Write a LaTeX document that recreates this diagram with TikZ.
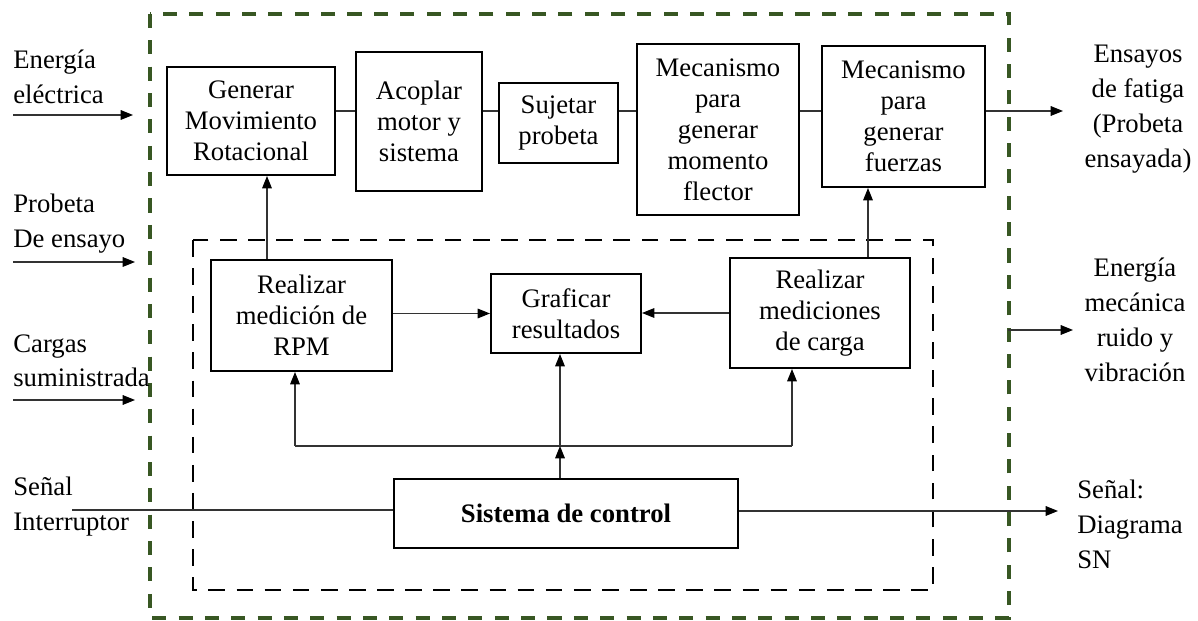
\documentclass[tikz,border=0pt]{standalone}
\usepackage{fontspec}
\setmainfont{Liberation Serif}
\usepackage{tikz}
\usetikzlibrary{arrows.meta,positioning,calc}
\usepackage{xcolor}
\definecolor{frame}{HTML}{385723}
\begin{document}
\begin{tikzpicture}[x=0.02cm, y=-0.02cm,
  blk/.style={draw, line width=1.2pt, align=center, inner sep=0pt, font=\fontsize{15.2}{17.6}\selectfont},
  lbl/.style={inner sep=0pt, font=\fontsize{15.2}{19.8}\selectfont},
  link/.style={draw=black!80, line width=0.6pt},
  arr/.style={link, -{Triangle[length=7pt,width=5.5pt,color=black]}},
  outer/.style={draw=frame, line width=2pt, dash pattern=on 8pt off 7pt},
  inner/.style={draw=black, line width=1.4pt, dash pattern=on 9.5pt off 6.5pt}
]
  \useasboundingbox (0,0) rectangle (1198,621);
  \draw[outer] (150,14) rectangle (1009,618);
  \draw[inner] (193,240) rectangle (933,590);

  % top row
  \node[blk, minimum width=3.36cm, minimum height=2.16cm] (gen) at (251,121) {Generar\\Movimiento\\Rotacional};
  \node[blk, minimum width=2.52cm, minimum height=2.78cm] (acop) at (419,121.5) {Acoplar\\motor y\\sistema};
  \node[blk, minimum width=2.38cm, minimum height=1.6cm] (suj) at (558.5,123) {Sujetar\\probeta};
  \node[blk, minimum width=3.24cm, minimum height=3.42cm] (mmf) at (718,129.5) {Mecanismo\\para\\generar\\momento\\flector};
  \node[blk, minimum width=3.26cm, minimum height=2.82cm] (mfz) at (903.5,116.5) {Mecanismo\\para\\generar\\fuerzas};

  % measuring and control
  \node[blk, minimum width=3.62cm, minimum height=2.22cm] (rpm) at (301.5,315.5) {Realizar\\medición de\\RPM};
  \node[blk, minimum width=3.0cm, minimum height=1.58cm] (graf) at (566,313.5) {Graficar\\resultados};
  \node[blk, minimum width=3.6cm, minimum height=2.2cm] (carga) at (820,313) {Realizar\\mediciones\\de carga};
  \node[blk, minimum width=6.88cm, minimum height=1.38cm, font=\fontsize{15.2}{17.6}\selectfont\bfseries] (ctrl) at (566,513.5) {Sistema de control};

  % inputs and outputs
  \node[lbl, align=left, anchor=north west] (elec) at (13,50) {Energía\\eléctrica};
  \node[lbl, align=left, anchor=north west] (prob) at (13,194) {Probeta\\De ensayo};
  \node[lbl, align=left, anchor=north west] (carg) at (13,334) {Cargas\\suministrada};
  \node[lbl, align=left, anchor=north west] (sen) at (13,477) {Señal\\Interruptor};
  \node[lbl, align=center, anchor=north] (ens) at (1138,45) {Ensayos\\de fatiga\\(Probeta\\ensayada)};
  \node[lbl, align=center, anchor=north] (emec) at (1135,258) {Energía\\mecánica\\ruido y\\vibración};
  \node[lbl, align=left, anchor=north west] (sn) at (1077,480) {Señal:\\Diagrama\\SN};

  \coordinate (row) at (0,111);
  \coordinate (ein) at (133,115);
  \coordinate (pin) at (135,262);
  \coordinate (cin) at (135,400);
  \coordinate (sin) at (72,510);
  \coordinate (ens-in) at (1063,111);
  \coordinate (emo-a) at (1008,330);
  \coordinate (emo-b) at (1073,330);
  \coordinate (sn-in) at (1058,511);
  \coordinate (up1) at (267,0);
  \coordinate (up2) at (868,0);
  \coordinate (bl) at (295,446);
  \coordinate (bm) at (560,446);
  \coordinate (br) at (792,446);

  \draw[arr] (elec.west |- ein) -- (ein);
  \draw[arr] (prob.west |- pin) -- (pin);
  \draw[arr] (carg.west |- cin) -- (cin);
  \draw[link] (sin) -- (ctrl.west |- sin);

  \draw[link] (gen.east |- row) -- (acop.west |- row);
  \draw[link] (acop.east |- row) -- (suj.west |- row);
  \draw[link] (suj.east |- row) -- (mmf.west |- row);
  \draw[link] (mmf.east |- row) -- (mfz.west |- row);
  \draw[arr] (mfz.east |- row) -- (ens-in);

  \draw[arr] (rpm.north -| up1) -- (gen.south -| up1);
  \draw[arr] (carga.north -| up2) -- (mfz.south -| up2);
  \draw[arr] (rpm.east |- graf.west) -- (graf.west);
  \draw[arr] (carga.west) -- (graf.east |- carga.west);

  \draw[link] (bl) -- (br);
  \draw[arr] (ctrl.north -| bm) -- (bm);
  \draw[arr] (bl) -- (rpm.south -| bl);
  \draw[arr] (bm) -- (graf.south -| bm);
  \draw[arr] (br) -- (carga.south -| br);

  \draw[arr] (emo-a) -- (emo-b);
  \draw[arr] (ctrl.east |- sn-in) -- (sn-in);
\end{tikzpicture}
\end{document}
